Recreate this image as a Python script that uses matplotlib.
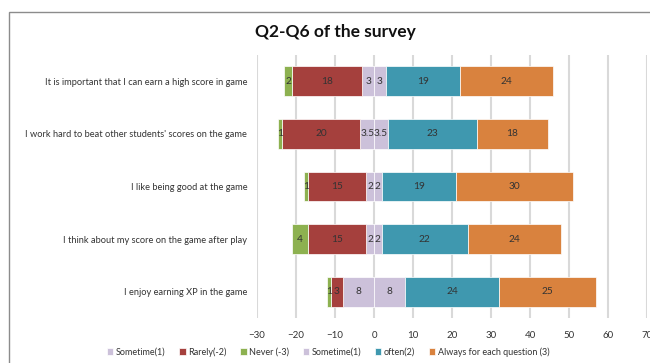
import numpy as np
import matplotlib.pyplot as plt
from matplotlib.patches import Rectangle

questions = [
    "It is important that I can earn a high score in game",
    "I work hard to beat other students' scores on the game",
    "I like being good at the game",
    "I think about my score on the game after play",
    "I enjoy earning XP in the game",
]
never = [2, 1, 1, 4, 1]
rarely = [18, 20, 15, 15, 3]
sometime_left = [3, 3.5, 2, 2, 8]
sometime_right = [3, 3.5, 2, 2, 8]
often = [19, 23, 19, 22, 24]
always = [24, 18, 30, 24, 25]

labels = ["Sometime(1)", "Rarely(-2)", "Never (-3)", "Sometime(1)", "often(2)",
          "Always for each question (3)"]
colors = ["#CCC1DA", "#A5403D", "#8DB150", "#CCC1DA", "#3F98AF", "#D9823E"]

plt.rcParams['font.family'] = ['Lato', 'DejaVu Sans']

fig = plt.figure(figsize=(6.5, 3.63), dpi=100)
fig.patches.append(Rectangle((9 / 650, -0.05), 1.2, 1 - 12 / 363 + 0.05,
                             transform=fig.transFigure, fill=False,
                             edgecolor="#8C8C8C", linewidth=1.0))
ax = fig.add_axes([257 / 650, 1 - 318 / 363, 390 / 650, 263 / 363])

y = np.arange(len(questions))
h = 0.57

# negative side: stack outward from zero
left_series = [sometime_left, rarely, never]
right_series = [sometime_right, often, always]
handles = []
pos = np.zeros(len(questions))
for vals, col in zip(left_series, colors[:3]):
    vals = np.array(vals, dtype=float)
    b = ax.barh(y, -vals, left=-pos, height=h, color=col, edgecolor="white",
                linewidth=0.5)
    for yi, v, p in zip(y, vals, pos):
        ax.text(-p - v / 2, yi, f"{v:g}", ha="center", va="center",
                fontsize=7.3, color="#333333")
    handles.append(b)
    pos += vals
pos = np.zeros(len(questions))
for vals, col in zip(right_series, colors[3:]):
    vals = np.array(vals, dtype=float)
    b = ax.barh(y, vals, left=pos, height=h, color=col, edgecolor="white",
                linewidth=0.5)
    for yi, v, p in zip(y, vals, pos):
        ax.text(p + v / 2, yi, f"{v:g}", ha="center", va="center",
                fontsize=7.3, color="#333333")
    handles.append(b)
    pos += vals

ax.set_xlim(-30, 70)
ax.set_ylim(len(questions) - 0.5, -0.5)
ax.set_xticks(range(-30, 71, 10))
ax.set_yticks(y)
ax.set_yticklabels(questions, fontsize=6.7, color="#333333")
ax.tick_params(axis="x", labelsize=7, labelcolor="#333333", length=0, pad=9)
ax.tick_params(axis="y", length=0, pad=7)
ax.grid(axis="x", color="#D9D9D9", linewidth=1.5)
ax.set_axisbelow(True)
for s in ax.spines.values():
    s.set_visible(False)

fig.text(335 / 650, 1 - 32 / 363, "Q2-Q6 of the survey", ha="center",
         va="center", fontsize=12.5, fontweight="bold", color="#111111")
fig.legend(handles, labels, loc="center", bbox_to_anchor=(0.505, 1 - 352 / 363),
           ncol=6, fontsize=6.5, frameon=False, handlelength=0.7,
           handleheight=0.7, handletextpad=0.3, columnspacing=1.5,
           labelcolor="#333333")

fig.savefig("out.png", dpi=100)
